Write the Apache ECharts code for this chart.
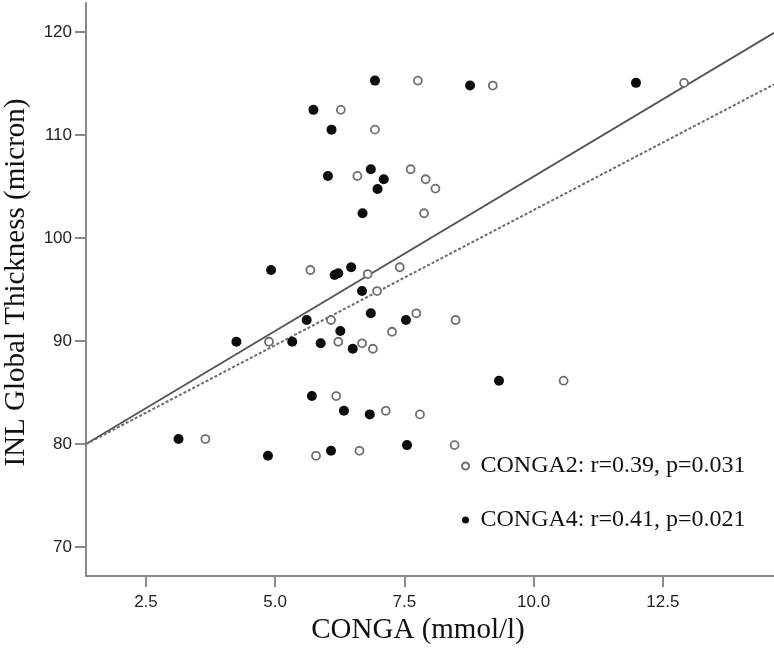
<!DOCTYPE html>
<html>
<head>
<meta charset="utf-8">
<script src="https://cdn.jsdelivr.net/npm/echarts@6/dist/echarts.min.js"></script>
<style>
html,body{margin:0;padding:0;background:#fff;}
#chart{width:774px;height:657px;}
</style>
</head>
<body>
<div id="chart"></div>
<script>
// ---- data ----
var xTicks = [2.5, 5.0, 7.5, 10.0, 12.5];
var yTicks = [70, 80, 90, 100, 110, 120];

var conga4Points = [
  [6.93,115.27],[5.74,112.43],[6.09,110.51],[6.02,106.02],[6.85,106.67],[7.10,105.70],
  [6.98,104.76],[6.69,102.40],[4.92,96.89],[6.15,96.41],[6.22,96.57],[6.47,97.16],
  [6.68,94.85],[5.61,92.04],[6.85,92.69],[7.53,92.04],[4.25,89.93],[5.33,89.93],
  [5.88,89.78],[6.26,90.97],[6.50,89.25],[5.71,84.66],[6.33,83.23],[6.83,82.88],
  [3.13,80.49],[4.86,78.86],[6.08,79.35],[7.55,79.90],[8.77,114.79],[11.98,115.05],
  [9.33,86.15]
];
var conga2Points = [
  [7.76,115.27],[6.27,112.43],[6.93,110.51],[6.59,106.02],[7.62,106.67],[7.91,105.70],
  [8.10,104.79],[7.88,102.40],[5.68,96.89],[6.79,96.50],[7.41,97.16],[6.97,94.85],
  [6.08,92.04],[7.73,92.69],[8.49,92.04],[4.88,89.93],[6.22,89.93],[6.68,89.78],
  [6.89,89.25],[7.26,90.90],[6.18,84.66],[7.14,83.23],[7.80,82.88],[3.65,80.49],
  [5.79,78.86],[6.63,79.35],[8.47,79.90],[9.21,114.79],[12.91,115.05],[10.58,86.15]
];
var fitConga4 = [[1.34, 80.0], [14.65, 119.9]];
var fitConga2 = [[1.34, 80.0], [14.65, 114.9]];

var nameConga2 = 'CONGA2: r=0.39, p=0.031';
var nameConga4 = 'CONGA4: r=0.41, p=0.021';

var chart = echarts.init(document.getElementById('chart'), null, {renderer: 'canvas'});
var axisGray = '#8a8a8a';
chart.setOption({
  animation: false,
  backgroundColor: '#ffffff',
  grid: {left: 86, top: 3, right: 0, bottom: 81, containLabel: false, outerBoundsMode: 'none'},
  legend: {
    orient: 'vertical',
    left: 456,
    top: 449,
    itemWidth: 20,
    itemHeight: 7,
    itemGap: 30,
    icon: 'circle',
    data: [nameConga2, nameConga4],
    textStyle: {fontFamily: 'Liberation Serif', fontSize: 24, color: '#111', lineHeight: 24}
  },
  xAxis: {
    type: 'value',
    min: 1.34,
    max: 14.65,
    name: 'CONGA (mmol/l)',
    nameLocation: 'middle',
    nameGap: 40,
    nameTextStyle: {fontFamily: 'Liberation Serif', fontSize: 29, color: '#111', padding: [0, 24, 0, 0]},
    axisLine: {show: true, onZero: false, lineStyle: {color: axisGray, width: 2}},
    axisTick: {show: true, inside: false, length: 11, customValues: xTicks, lineStyle: {color: axisGray, width: 2}},
    axisLabel: {customValues: xTicks, margin: 18, fontFamily: 'Liberation Sans', fontSize: 17, color: '#222',
      formatter: function (v) { return v.toFixed(1); }},
    splitLine: {show: false}
  },
  yAxis: {
    type: 'value',
    min: 67.2,
    max: 122.8,
    name: 'INL Global Thickness (micron)',
    nameLocation: 'middle',
    nameGap: 55,
    nameRotate: 90,
    nameTextStyle: {fontFamily: 'Liberation Serif', fontSize: 29, color: '#111', padding: [0, 0, 0, 14]},
    axisLine: {show: true, onZero: false, lineStyle: {color: axisGray, width: 2}},
    axisTick: {show: true, inside: false, length: 11, customValues: yTicks, lineStyle: {color: axisGray, width: 2}},
    axisLabel: {customValues: yTicks, margin: 14, fontFamily: 'Liberation Sans', fontSize: 17, color: '#222'},
    splitLine: {show: false}
  },
  series: [
    {
      name: 'fit4', type: 'line', data: fitConga4, symbol: 'none', z: 1,
      lineStyle: {color: '#555', width: 1.8, type: 'solid'}, silent: true
    },
    {
      name: 'fit2', type: 'line', data: fitConga2, symbol: 'none', z: 1,
      lineStyle: {color: '#6a6a6a', width: 2, type: [3, 2]}, silent: true
    },
    {
      name: nameConga2, type: 'scatter', data: conga2Points, symbol: 'circle', symbolSize: 8, z: 3,
      itemStyle: {color: '#ffffff', borderColor: '#707070', borderWidth: 1.8, opacity: 1}
    },
    {
      name: nameConga4, type: 'scatter', data: conga4Points, symbol: 'circle', symbolSize: 10, z: 4,
      itemStyle: {color: '#0d0d0d', opacity: 1}
    }
  ]
});
</script>
</body>
</html>
